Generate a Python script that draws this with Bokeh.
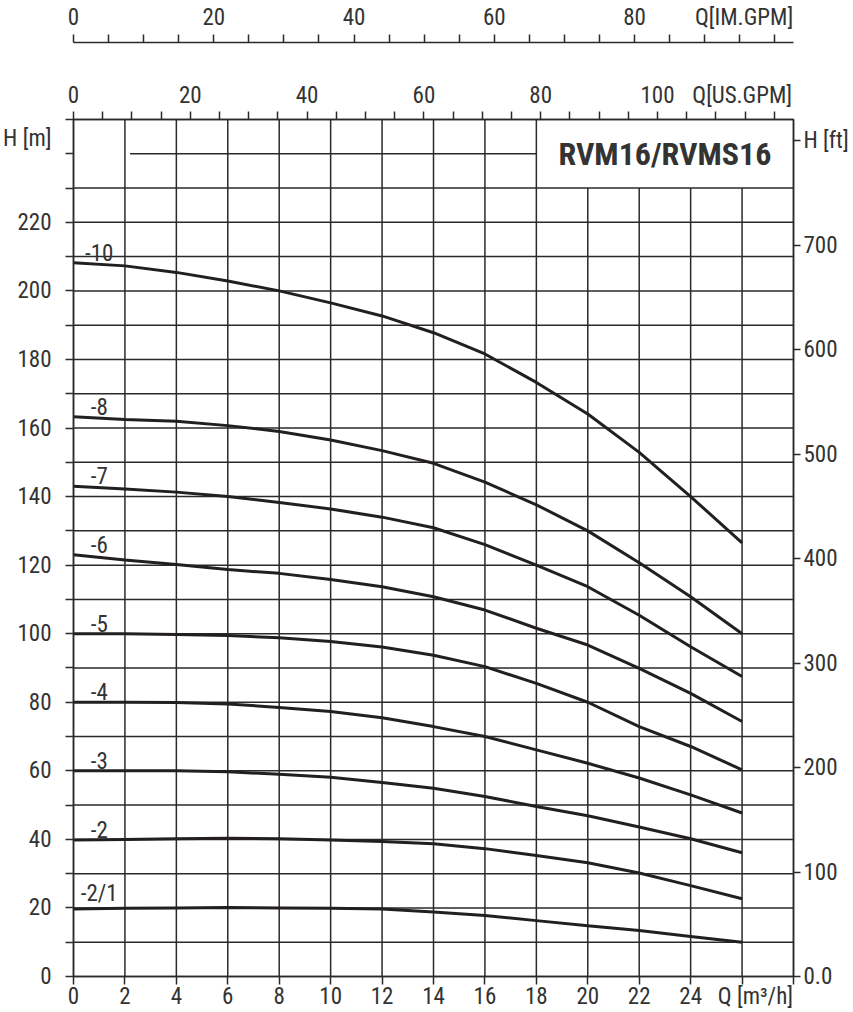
from bokeh.plotting import figure
from bokeh.models import Range1d, LinearAxis, FixedTicker, Label
from bokeh.embed import file_html
from bokeh.resources import INLINE

# ---------------- data ----------------
Q = [0, 2, 4, 6, 8, 10, 12, 14, 16, 18, 20, 22, 24, 26]
H_10 = [208.2, 207.3, 205.4, 202.9, 200.0, 196.5, 192.7, 187.8, 181.6, 173.3, 164.1, 152.9, 140.0, 126.5]
H_8 = [163.3, 162.5, 162.0, 160.7, 159.0, 156.5, 153.4, 149.7, 144.2, 137.6, 130.0, 120.7, 110.8, 100.0]
H_7 = [143.0, 142.2, 141.3, 140.0, 138.3, 136.4, 134.0, 130.9, 126.0, 120.0, 113.7, 105.4, 96.2, 87.5]
H_6 = [123.0, 121.5, 120.2, 118.7, 117.6, 115.8, 113.7, 110.8, 106.9, 101.6, 96.7, 89.9, 82.6, 74.4]
H_5 = [100.0, 100.0, 99.8, 99.5, 98.8, 97.7, 96.1, 93.7, 90.4, 85.5, 80.0, 72.9, 67.1, 60.3]
H_4 = [80.0, 80.0, 79.9, 79.5, 78.5, 77.3, 75.5, 72.9, 70.0, 66.1, 62.2, 57.9, 53.0, 47.7]
H_3 = [60.0, 60.0, 60.0, 59.7, 59.0, 58.1, 56.6, 54.9, 52.5, 49.6, 46.9, 43.6, 40.2, 36.1]
H_2 = [39.8, 40.0, 40.2, 40.3, 40.2, 39.8, 39.4, 38.7, 37.3, 35.3, 33.2, 30.2, 26.5, 22.7]
H_21 = [19.7, 19.9, 20.0, 20.1, 20.0, 19.9, 19.7, 18.8, 17.8, 16.3, 14.8, 13.4, 11.7, 10.0]

curve_names = ["-10", "-8", "-7", "-6", "-5", "-4", "-3", "-2", "-2/1"]
curves = [H_10, H_8, H_7, H_6, H_5, H_4, H_3, H_2, H_21]

# axis ticks / captions
x_labels = list(range(0, 25, 2))
x_minor = list(range(0, 29, 2))
X_CAPTION, X_CAPTION_AT = "Q [m³/h]", 26.52
y_labels = list(range(0, 221, 20))
y_minor = list(range(0, 251, 10))
Y_CAPTION, Y_CAPTION_AT = "H [m]", 244.5
ft_labels = list(range(0, 701, 100))
FT_CAPTION, FT_CAPTION_AT = "H [ft]", 800
us_labels = [0, 20, 40, 60, 80, 100]
us_minor = list(range(0, 121, 5))
US_CAPTION, US_CAPTION_AT = "Q[US.GPM]", 114.5
im_labels = [0, 20, 40, 60, 80]
im_minor = list(range(0, 101, 5))
IM_CAPTION, IM_CAPTION_AT = "Q[IM.GPM]", 95.6

TITLE = "RVM16/RVMS16"
Q_MAX, H_MAX = 28, 250
BOX_Q, BOX_H = 18, 230
M3H_TO_USGPM = 4.402868
M3H_TO_IMGPM = 3.666154
M_TO_FT = 1 / 0.3048

FONT = "Roboto Condensed"
TXT = "#333333"
LINE = "#2a2a2a"
FS = "23px"

p = figure(width=853, height=1012, x_range=Range1d(0, Q_MAX), y_range=Range1d(0, H_MAX),
           output_backend="svg", toolbar_location=None,
           min_border_left=72, min_border_right=60, min_border_top=118, min_border_bottom=35)
p.xgrid.visible = False
p.ygrid.visible = False
p.outline_line_color = LINE
p.outline_line_width = 1.5
p.background_fill_color = "white"
p.border_fill_color = "white"


def style(ax, major_out, minor_out, standoff):
    ax.axis_line_color = LINE
    ax.axis_line_width = 1.5
    ax.major_tick_line_color = LINE
    ax.minor_tick_line_color = LINE
    ax.major_tick_line_width = 1.5
    ax.minor_tick_line_width = 1.5
    ax.major_tick_in = 0
    ax.minor_tick_in = 0
    ax.major_tick_out = major_out
    ax.minor_tick_out = minor_out
    ax.major_label_standoff = standoff
    ax.major_label_text_font = FONT
    ax.major_label_text_font_size = FS
    ax.major_label_text_color = TXT
    ax.major_label_text_line_height = 1.0


# bottom axis: ticks drawn as minor ticks, labels (incl. caption) as zero-length majors
bx = p.xaxis[0]
bx.ticker = FixedTicker(ticks=x_labels + [X_CAPTION_AT], minor_ticks=x_minor)
bx.major_label_overrides = {X_CAPTION_AT: X_CAPTION}
style(bx, 0, 8, -2)

# left axis
ly = p.yaxis[0]
ly.ticker = FixedTicker(ticks=y_labels + [Y_CAPTION_AT], minor_ticks=y_minor)
ly.major_label_overrides = {Y_CAPTION_AT: Y_CAPTION}
style(ly, 0, 8, 14)

# right axis (ft)
p.extra_y_ranges = {"ft": Range1d(0, H_MAX * M_TO_FT)}
ry = LinearAxis(y_range_name="ft", ticker=FixedTicker(ticks=ft_labels + [FT_CAPTION_AT]))
ry.major_label_overrides = {0: "0.0", FT_CAPTION_AT: FT_CAPTION}
style(ry, 7, 0, 3)
p.add_layout(ry, "right")

# top axes
p.extra_x_ranges = {"us": Range1d(0, Q_MAX * M3H_TO_USGPM),
                    "im": Range1d(0, Q_MAX * M3H_TO_IMGPM),
                    "sp": Range1d(0, 1)}
ux = LinearAxis(x_range_name="us", ticker=FixedTicker(ticks=us_labels + [US_CAPTION_AT], minor_ticks=us_minor))
ux.major_label_overrides = {US_CAPTION_AT: US_CAPTION}
style(ux, 0, 8, 3)
p.add_layout(ux, "above")

# invisible spacer axis between the two flow scales
sp = LinearAxis(x_range_name="sp", ticker=FixedTicker(ticks=[0.5]))
sp.axis_line_color = None
sp.major_tick_line_color = None
sp.major_tick_out = 36
sp.major_tick_in = 0
sp.minor_tick_out = 0
sp.major_label_standoff = 0
sp.major_label_text_font_size = "10px"
sp.major_label_text_alpha = 0
p.add_layout(sp, "above")

ix = LinearAxis(x_range_name="im", ticker=FixedTicker(ticks=im_labels + [IM_CAPTION_AT], minor_ticks=im_minor))
ix.major_label_overrides = {IM_CAPTION_AT: IM_CAPTION}
style(ix, 0, 8, 4)
p.add_layout(ix, "above")

# grid (no lines inside title box, 240 line shortened near H[m])
gx0, gy0, gx1, gy1 = [], [], [], []
for q in range(2, Q_MAX, 2):
    gx0.append(q); gx1.append(q); gy0.append(0)
    gy1.append(H_MAX if q <= BOX_Q else BOX_H)
for h in range(10, H_MAX, 10):
    gy0.append(h); gy1.append(h)
    if h <= BOX_H:
        gx0.append(0); gx1.append(Q_MAX)
    else:
        gx0.append(2.2); gx1.append(BOX_Q)
p.segment(gx0, gy0, gx1, gy1, line_color=LINE, line_width=1.5)

# curves
for name, h in zip(curve_names, curves):
    p.line(Q, h, line_color="#231f20", line_width=3)
    p.add_layout(Label(x=1.0, y=h[0] + 0.6, text=name, text_align="center", text_baseline="bottom",
                       text_font=FONT, text_font_size=FS, text_color=TXT))

# title
p.add_layout(Label(x=23, y=240, text=TITLE, text_align="center", text_baseline="middle",
                   text_font=FONT, text_font_size="32px", text_font_style="bold", text_color=TXT))

open("out.html", "w").write(file_html(p, INLINE))
